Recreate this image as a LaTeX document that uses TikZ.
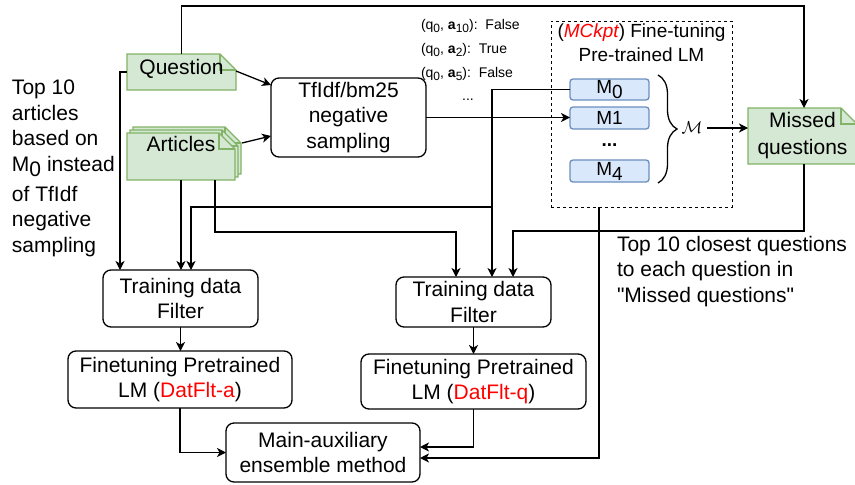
\documentclass[tikz,border=0pt]{standalone}
\usepackage{fontspec}
\setmainfont{Liberation Sans}[Ligatures=TeXOff]
\usetikzlibrary{arrows.meta,backgrounds,decorations.pathreplacing}
\definecolor{notefill}{HTML}{D5E8D4}
\definecolor{notedraw}{HTML}{82B366}
\definecolor{mfill}{HTML}{DAE8FC}
\definecolor{mdraw}{HTML}{6C8EBF}
\definecolor{hl}{HTML}{FF0000}
\newcommand{\lowz}[1]{\raisebox{-5pt}{#1}}
\newcommand{\lows}[1]{\raisebox{-3pt}{\fontsize{12}{12}\selectfont #1}}
\newcommand{\notepath}[2]{%
  \filldraw[notestyle] ([shift={(#2,#2)}]#1.south west) -- ([shift={(#2,#2)}]#1.north west) -- ([shift={(#2-16pt,#2)}]#1.north east) -- ([shift={(#2,#2-16pt)}]#1.north east) -- ([shift={(#2,#2)}]#1.south east) -- cycle;
  \draw[notestyle, fill=none] ([shift={(#2-16pt,#2)}]#1.north east) -- ([shift={(#2-16pt,#2-16pt)}]#1.north east) -- ([shift={(#2,#2-16pt)}]#1.north east);}
\begin{document}
\begin{tikzpicture}[x=1pt,y=-1pt,
  every node/.style={inner sep=0pt, outer sep=0pt},
  rbox/.style={draw, line width=1.3pt, rounded corners=8pt, align=center, font=\fontsize{21}{25.5}\selectfont},
  mbox/.style={draw=mdraw, fill=mfill, line width=1.3pt, rounded corners=3pt, minimum width=79pt, font=\fontsize{19}{19}\selectfont},
  conn/.style={line width=1.3pt, -{Stealth[length=9pt,width=9pt,inset=2.5pt]}},
  notestyle/.style={fill=notefill, draw=notedraw, line width=1.3pt},
]
\useasboundingbox (0,0) rectangle (855,485);

% process boxes
\node[rbox, minimum width=155pt, minimum height=79pt] (tf) at (348.5,117.5) {TfIdf/bm25\\negative\\sampling};
\node[rbox, minimum width=155pt, minimum height=57pt] (f1) at (180.5,298.5) {Training data\\Filter};
\node[rbox, minimum width=155pt, minimum height=50pt] (f2) at (473.5,302) {Training data\\Filter};
\node[rbox, minimum width=224pt, minimum height=57pt] (ft1) at (180,379.5) {Finetuning Pretrained\\LM (\textcolor{hl}{DatFlt-a})};
\node[rbox, minimum width=225pt, minimum height=55pt] (ft2) at (473.5,381.5) {Finetuning Pretrained\\LM (\textcolor{hl}{DatFlt-q})};
\node[rbox, minimum width=194pt, minimum height=59pt] (ma) at (323,452.5) {Main-auxiliary\\ensemble method};

% notes
\node[minimum width=109pt, minimum height=36pt, font=\fontsize{21}{25}\selectfont, text depth=10pt] (q) at (181.5,72) {Question};
\node[minimum width=108pt, minimum height=47pt, font=\fontsize{21}{25}\selectfont, text depth=25pt] (art) at (181,156.5) {Articles};
\node[minimum width=109pt, minimum height=56pt, align=center, font=\fontsize{21}{27}\selectfont] (mq) at (802.5,136) {Missed\\questions};

% fine-tuning group
\node[draw, dash pattern=on 3pt off 3pt, line width=1pt, minimum width=181pt, minimum height=186pt] (ftb) at (641.5,114) {};
\node[anchor=north, align=center, font=\fontsize{19}{24}\selectfont] (fttl) at (641.5,24) {(\textcolor{hl}{\itshape MCkpt}) Fine-tuning\\Pre-trained LM};
\node[mbox, minimum height=21pt] (m0) at (609.5,89.5) {M\lowz{0}};
\node[mbox, minimum height=22pt] (m1) at (609.5,118) {M1};
\node[anchor=base, font=\fontsize{19}{19}\selectfont\bfseries] (mdots) at (609.5,146) {...};
\node[mbox, minimum height=22pt] (m4) at (609.5,171) {M\lowz{4}};
\draw[line width=1.3pt, decorate, decoration={brace, amplitude=19pt}] (658,75) -- (658,183);
\node[font=\fontsize{19}{19}\selectfont] (mcal) at (692,128) {$\mathcal{M}$};

% texts
\node[anchor=north west, align=left, font=\fontsize{21}{25.5}\selectfont] (lt) at (12,80) {Top 10\\articles\\based on\\M\lowz{0} instead\\[4.5pt]of TfIdf\\negative\\sampling};
\node[anchor=north west, align=left, font=\fontsize{21}{25.5}\selectfont] (rt) at (617,236) {Top 10 closest questions\\to each question in\\"Missed questions"};
\node[anchor=north west, align=left, font=\fontsize{14}{24}\selectfont] (pairs) at (421,19) {(q\lows{0}, \textbf{a}\lows{10}):\ \ False\\(q\lows{0}, \textbf{a}\lows{2}):\ \ True\\(q\lows{0}, \textbf{a}\lows{5}):\ \ False};
\node[anchor=base, font=\fontsize{14}{14}\selectfont] (pdots) at (468,100) {...};

% helper coordinates
\coordinate (qL) at (120,72);
\coordinate (topR) at (804,6);
\coordinate (a2a) at (215,232);
\coordinate (a2b) at (456,232);
\coordinate (m0b) at (492,207);
\coordinate (m0c) at (191,207);
\coordinate (mqa) at (804,231);
\coordinate (mqb) at (513,231);
\coordinate (ftbot) at (599,207);

% connectors
\draw[conn] (q.north) |- (topR) -- (topR |- mq.north);
\draw[conn] (q.west) -- (qL) -- (qL |- f1.north);
\draw[conn] ([yshift=1pt]q.east) -- ([yshift=32.5pt]tf.west);
\draw[conn] ([xshift=7pt,yshift=13.5pt]art.east) -- ([yshift=-18.5pt]tf.west);
\draw[conn] (art.south) -- (art.south |- f1.north);
\draw[conn] (a2a |- art.south) -- (a2a) -- (a2b) -- (a2b |- f2.north);
\draw[conn] (m0.west) -- (m0.west -| m0b) -- (m0b |- f2.north);
\draw[conn] (m0b) -- (m0c) -- (m0c |- f1.north);
\draw[conn] (tf.east) -- (tf.east -| m1.west);
\draw[conn, shorten <=5pt] (mcal.east) -- (mcal.east -| mq.west);
\draw[conn] (mqa |- mq.south) -- (mqa) -- (mqb) -- (mqb |- f2.north);
\draw[conn] (f1.south) -- (f1.south |- ft1.north);
\draw[conn] (f2.south) -- (ft2.north);
\draw[conn] (ft1.south) |- (ma.west);
\draw[conn] (ft2.south) |- ([yshift=5.5pt]ma.east);
\draw[conn] (ftbot) |- ([yshift=-5.5pt]ma.east);

% note shapes behind
\begin{pgfonlayer}{background}
  \fill[white] (0,0) rectangle (855,485);
  \notepath{art}{6pt}
  \notepath{art}{3pt}
  \notepath{art}{0pt}
  \notepath{q}{0pt}
  \notepath{mq}{0pt}
\end{pgfonlayer}
\end{tikzpicture}
\end{document}
